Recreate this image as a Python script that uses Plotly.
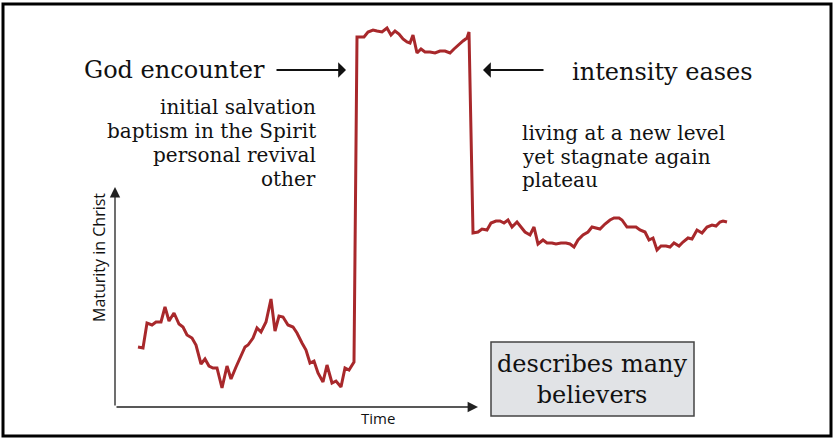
import plotly.graph_objects as go

# Time (units from origin) and maturity readings of the curve
time = [23, 28, 32, 37, 41, 46, 50, 54, 59, 64, 68, 72, 77, 81, 86, 90, 94, 98, 102, 107,
        112, 116, 121, 126, 130, 133, 138, 142, 146, 151, 156, 160, 164, 168, 173, 178, 182,
        187, 191, 195, 199, 203, 208, 212, 217, 221, 226, 230, 234, 239,
        242, 245, 249, 253, 258, 262, 267, 272, 276, 280, 284, 288, 292, 295, 298, 302, 306,
        310, 315, 320, 325, 330, 335, 339, 343, 348, 352, 354,
        358, 363, 367, 372, 376, 381, 385, 389, 393, 397, 402, 406, 410, 415, 419, 423, 428,
        432, 437, 441, 446, 451, 455, 459, 463, 468, 473, 477, 482, 485, 490, 495, 499, 504,
        507, 512, 517, 521, 525, 530, 534, 538, 542, 546, 551, 555, 559, 564, 568, 573, 577,
        582, 587, 592, 597, 601, 605, 608, 612]
maturity = [60, 59, 84, 82, 85, 85, 100, 86, 94, 83, 80, 72, 69, 62, 43, 48, 41, 39, 39, 19,
            41, 28, 40, 52, 60, 62, 69, 79, 75, 85, 108, 76, 91, 90, 82, 80, 74,
            64, 57, 44, 46, 34, 25, 42, 24, 26, 20, 39, 37, 45,
            370, 370, 370, 375, 377, 376, 375, 379, 372, 376, 373, 368, 365, 364, 372, 354, 358,
            355, 355, 354, 356, 356, 354, 358, 362, 366, 369, 375,
            174, 175, 178, 177, 184, 186, 186, 184, 187, 180, 185, 180, 175, 172, 180, 163, 167,
            164, 164, 163, 164, 164, 163, 160, 167, 172, 175, 180, 179, 178, 183, 187, 189, 189,
            187, 180, 180, 180, 177, 175, 167, 169, 157, 161, 161, 160, 164, 161, 165, 169, 168,
            177, 174, 180, 182, 181, 185, 186, 185]

x_label = "Time"
y_label = "Maturity in Christ"
left_title = "God encounter"
right_title = "intensity eases"
left_notes = ["initial salvation", "baptism in the Spirit", "personal revival", "other"]
right_notes = ["living at a new level", "yet stagnate again", "plateau"]
box_text = ["describes many", "believers"]

SERIF = "DejaVu Serif"
SANS = "Open Sans"

fig = go.Figure()
fig.add_trace(go.Scatter(x=time, y=maturity, mode="lines",
                         line=dict(color="#a8282b", width=3), hoverinfo="skip"))

annotations = []
# axes arrows
annotations.append(dict(x=0, y=220, ax=0, ay=0, xref="x", yref="y", axref="x", ayref="y",
                        text="", showarrow=True, arrowhead=2, arrowsize=1.6, arrowwidth=1.3,
                        arrowcolor="#222"))
annotations.append(dict(x=363, y=0, ax=0, ay=0, xref="x", yref="y", axref="x", ayref="y",
                        text="", showarrow=True, arrowhead=2, arrowsize=1.6, arrowwidth=1.3,
                        arrowcolor="#222"))
annotations.append(dict(x=263, y=-11, xref="x", yref="y", text=x_label, showarrow=False,
                        font=dict(family=SANS, size=15, color="#111")))
annotations.append(dict(x=-16, y=149, xref="x", yref="y", text=y_label, showarrow=False,
                        textangle=-90, font=dict(family=SANS, size=16, color="#111")))
# titles and pointer arrows
annotations.append(dict(x=-33, y=337, xref="x", yref="y", text=left_title, showarrow=False,
                        xanchor="left", font=dict(family=SERIF, size=24, color="#111")))
annotations.append(dict(x=455, y=335, xref="x", yref="y", text=right_title, showarrow=False,
                        xanchor="left", font=dict(family=SERIF, size=24, color="#111")))
annotations.append(dict(x=231, y=337, ax=160, ay=337, xref="x", yref="y", axref="x", ayref="y",
                        text="", showarrow=True, arrowhead=1, arrowsize=1.3, arrowwidth=2,
                        arrowcolor="#111"))
annotations.append(dict(x=368, y=337, ax=430, ay=337, xref="x", yref="y", axref="x", ayref="y",
                        text="", showarrow=True, arrowhead=1, arrowsize=1.3, arrowwidth=2,
                        arrowcolor="#111"))
for i, line in enumerate(left_notes):
    annotations.append(dict(x=203, y=300 - 24 * i, xref="x", yref="y", text=line,
                            showarrow=False, xanchor="right",
                            font=dict(family=SERIF, size=20, color="#111")))
for i, line in enumerate(right_notes):
    annotations.append(dict(x=405, y=274 - 23.5 * i, xref="x", yref="y", text=line,
                            showarrow=False, xanchor="left",
                            font=dict(family=SERIF, size=20, color="#111")))
annotations.append(dict(x=477.5, y=28, xref="x", yref="y", text="<br>".join(box_text),
                        showarrow=False, align="center",
                        font=dict(family=SERIF, size=24, color="#111")))

shapes = [
    dict(type="rect", xref="x", yref="y", x0=376, x1=579, y0=-9, y1=65,
         fillcolor="#e1e3e6", line=dict(color="#444", width=1.5), layer="below"),
    dict(type="rect", xref="paper", yref="paper", x0=3 / 835, x1=831 / 835,
         y0=1 - 436 / 439, y1=1 - 4 / 439, line=dict(color="#000", width=3)),
]

fig.update_layout(
    width=835, height=439, margin=dict(l=0, r=0, t=0, b=0),
    paper_bgcolor="white", plot_bgcolor="white", showlegend=False,
    xaxis=dict(visible=False, range=[-115, 720], fixedrange=True),
    yaxis=dict(visible=False, range=[-32, 407], fixedrange=True),
    annotations=annotations, shapes=shapes,
)

fig.write_html("out.html", config={"displayModeBar": False},
               post_script="document.body.style.margin='0';document.body.style.overflow='hidden';")
